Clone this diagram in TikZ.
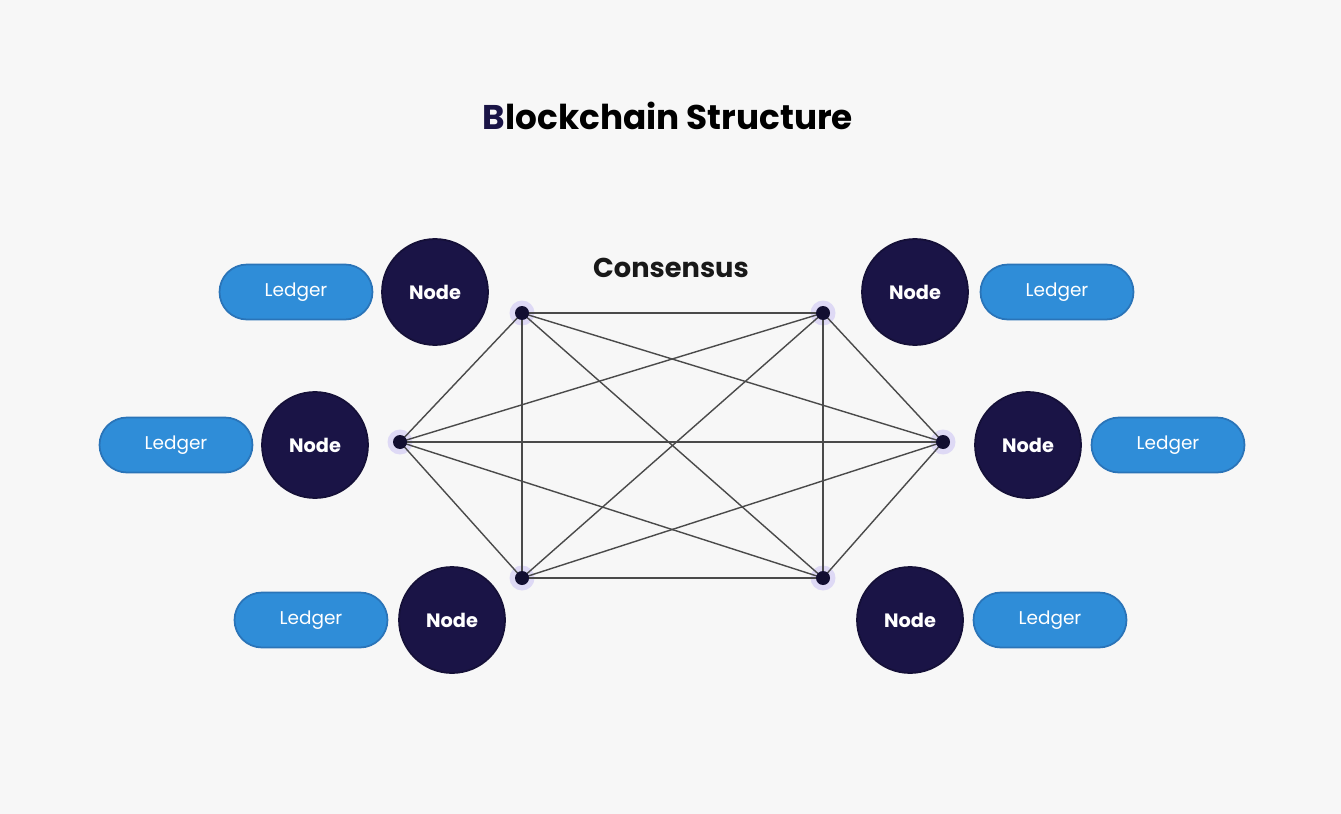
\documentclass[tikz,border=0pt]{standalone}
\usepackage{fontspec}
\setmainfont{Poppins}
\definecolor{bgc}{HTML}{F7F7F7}
\definecolor{navy}{HTML}{1A1446}
\definecolor{ledgerblue}{HTML}{2F8DD8}
\definecolor{ledgeredge}{HTML}{2A74B8}
\definecolor{edgegray}{HTML}{4A4A4A}
\definecolor{glow}{HTML}{D8D2F5}
\usetikzlibrary{shapes.misc}
\tikzset{
  peer/.style={circle, fill=navy, draw=navy!80!black, line width=1pt, minimum size=2.12cm, inner sep=0pt,
    text=white, font=\fontsize{11}{13}\selectfont\bfseries},
  ledger/.style={rounded rectangle, fill=ledgerblue, draw=ledgeredge, line width=1pt, minimum width=3.06cm, minimum height=1.1cm,
    inner sep=0pt, text=white, font=\fontsize{10.5}{12}\selectfont},
  hub/.style={circle, fill=navy!70!black, minimum size=0.28cm, inner sep=0pt},
  hubglow/.style={circle, fill=glow, opacity=0.8, minimum size=0.5cm, inner sep=0pt},
  link/.style={draw=edgegray, line width=0.8pt},
}
\begin{document}
\begin{tikzpicture}[x=0.02cm, y=-0.02cm]
\fill[bgc] (0,0) rectangle (1341,814);
\useasboundingbox (0,0) rectangle (1341,814);

\node[font=\fontsize{19.5}{23}\selectfont\bfseries, text=black] (title) at (668,116) {\textcolor{navy}{B}lockchain Structure};
\node[font=\fontsize{15.5}{18}\selectfont\bfseries, text=black!90] (cons) at (671,268) {Consensus};

% hub glows
\foreach \p in {(522,313),(823,313),(400,442),(943,442),(522,578),(823,578)}
  \node[hubglow] at \p {};

\coordinate (tl) at (522,313);
\coordinate (tr) at (823,313);
\coordinate (ml) at (400,442);
\coordinate (mr) at (943,442);
\coordinate (bl) at (522,578);
\coordinate (br) at (823,578);

\foreach \a/\b in {tl/tr,tl/ml,tl/mr,tl/bl,tl/br,tr/ml,tr/mr,tr/bl,tr/br,ml/mr,ml/bl,ml/br,mr/bl,mr/br,bl/br}
  \draw[link] (\a) -- (\b);

\foreach \h in {tl,tr,ml,mr,bl,br}
  \node[hub] (h\h) at (\h) {};

% left side
\node[ledger] (l1) at (296,292) {Ledger};
\node[peer] (n1) at (435,292) {Node};
\node[ledger] (l2) at (176,445) {Ledger};
\node[peer] (n2) at (315,445) {Node};
\node[ledger] (l3) at (311,620) {Ledger};
\node[peer] (n3) at (452,620) {Node};
% right side
\node[peer] (n4) at (915,292) {Node};
\node[ledger] (l4) at (1057,292) {Ledger};
\node[peer] (n5) at (1028,445) {Node};
\node[ledger] (l5) at (1168,445) {Ledger};
\node[peer] (n6) at (910,620) {Node};
\node[ledger] (l6) at (1050,620) {Ledger};
\end{tikzpicture}
\end{document}
